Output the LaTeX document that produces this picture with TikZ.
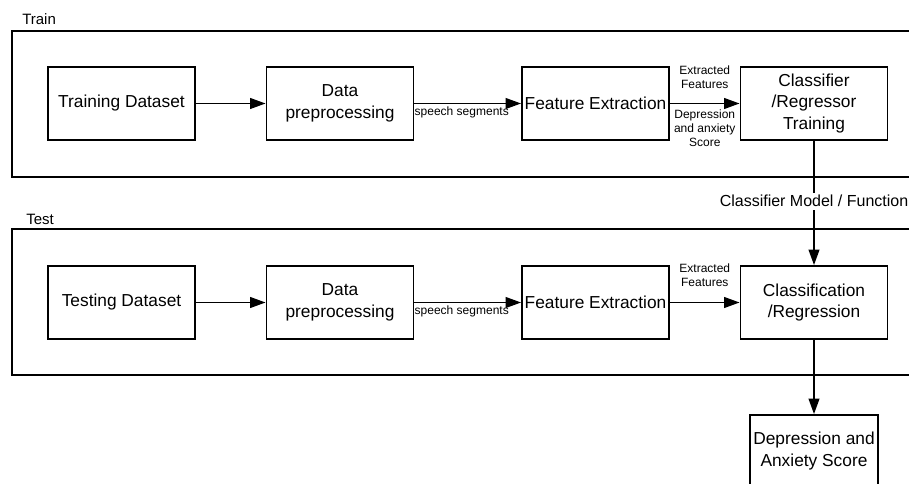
\documentclass[tikz,border=0pt]{standalone}
\usepackage{fontspec}
\setmainfont{Liberation Sans}
\usetikzlibrary{arrows.meta}

\newcommand{\boxfont}{\fontsize{13}{16}\selectfont}
\newcommand{\tinyfont}{\fontsize{9}{10.8}\selectfont}
\newcommand{\midfont}{\fontsize{12}{14}\selectfont}
\newcommand{\framefont}{\fontsize{11.25}{13}\selectfont}

\begin{document}
\begin{tikzpicture}[x=0.75pt,y=-0.75pt,
  stagebox/.style={draw, line width=1.4pt, minimum width=110.25pt, minimum height=54.75pt,
    inner sep=2pt, align=center, font=\boxfont},
  frame/.style={draw, line width=1.4pt},
  framelabel/.style={anchor=west, inner sep=0pt, font=\framefont},
  flow/.style={line width=1.3pt, -{Triangle[length=11.5pt,width=8pt]}},
  edgetext/.style={inner sep=0pt, align=center, font=\tinyfont}]

\useasboundingbox (0,0) rectangle (909,484);
\clip (0,0) rectangle (909,484);

% phase frames (they run past the right margin)
\draw[frame] (12,31) rectangle (940,177);
\draw[frame] (12,229) rectangle (940,375);
\node[framelabel] (trainlbl) at (22,19) {Train};
\node[framelabel] (testlbl) at (26,219) {Test};

% training pipeline
\node[stagebox] (trdata) at (121.5,103.5) {Training Dataset};
\node[stagebox] (trprep) at (340,103.5) {Data\\preprocessing};
\node[stagebox] (trfeat) at (595.5,103.5) {Feature Extraction};
\node[stagebox] (trclf)  at (814,103.5) {Classifier\\/Regressor\\Training};

% testing pipeline
\node[stagebox] (tsdata) at (121.5,302.5) {Testing Dataset};
\node[stagebox] (tsprep) at (340,302.5) {Data\\preprocessing};
\node[stagebox] (tsfeat) at (595.5,302.5) {Feature Extraction};
\node[stagebox] (tsclf)  at (814,302.5) {Classification\\/Regression};

% output
\node[stagebox, minimum width=96pt, minimum height=54pt] (score) at (814,451) {Depression and\\Anxiety Score};

% training connectors
\draw[flow] (trdata) -- (trprep);
\draw[flow] (trprep) -- node[edgetext, midway, yshift=-7pt, xshift=-4.5pt] {speech segments} (trfeat);
\draw[flow] (trfeat) -- node[edgetext, midway, yshift=19.5pt] {Extracted\\Features}
  node[edgetext, midway, yshift=-18.5pt] {Depression\\and anxiety\\Score} (trclf);

% testing connectors
\draw[flow] (tsdata) -- (tsprep);
\draw[flow] (tsprep) -- node[edgetext, midway, yshift=-7pt, xshift=-4.5pt] {speech segments} (tsfeat);
\draw[flow] (tsfeat) -- node[edgetext, midway, yshift=20.5pt] {Extracted\\Features} (tsclf);

% model hand-over and final output
\draw[flow] (trclf) -- node[pos=0.485, fill=white, inner sep=2pt, font=\midfont] {Classifier Model / Function} (tsclf);
\draw[flow] (tsclf) -- (score);
\end{tikzpicture}
\end{document}
